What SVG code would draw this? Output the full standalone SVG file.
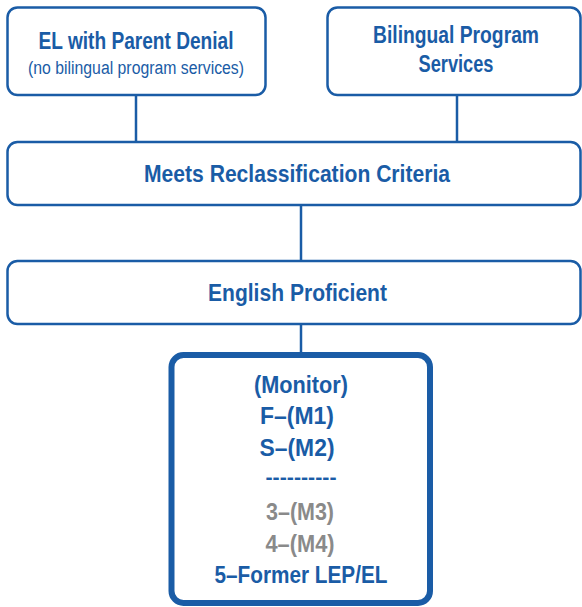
<svg xmlns="http://www.w3.org/2000/svg" width="582" height="607" viewBox="0 0 582 607">
  <style>
    .box { fill: #ffffff; stroke: #1a5ca6; stroke-width: 2.5; }
    .box-thick { fill: #ffffff; stroke: #1a5ca6; stroke-width: 6; }
    .link { stroke: #1a5ca6; stroke-width: 2.5; fill: none; }
    text { font-family: "Liberation Sans", Arial, sans-serif; text-anchor: middle; }
    .title { font-size: 23px; font-weight: bold; fill: #1a5ca6; }
    .sub { font-size: 18px; fill: #1a5ca6; }
    .gray { font-size: 23px; font-weight: bold; fill: #8a8a8a; }
    .dash { font-size: 20px; font-weight: bold; fill: #1a5ca6; }
  </style>

  <!-- connectors -->
  <g id="connectors">
    <line class="link" x1="136" y1="95" x2="136" y2="142"/>
    <line class="link" x1="457" y1="95" x2="457" y2="142"/>
    <line class="link" x1="301" y1="205" x2="301" y2="261"/>
    <line class="link" x1="301" y1="324" x2="301" y2="355"/>
  </g>

  <g id="parent-denial">
    <rect class="box" x="7.5" y="7.5" width="258" height="87.5" rx="10"/>
    <text class="title" x="136" y="48.5" textLength="195" lengthAdjust="spacingAndGlyphs">EL with Parent Denial</text>
    <text class="sub" x="136" y="74" textLength="216" lengthAdjust="spacingAndGlyphs">(no bilingual program services)</text>
  </g>

  <g id="bilingual-services">
    <rect class="box" x="327.5" y="7.5" width="253" height="87.5" rx="10"/>
    <text class="title" x="456" y="43" textLength="166" lengthAdjust="spacingAndGlyphs">Bilingual Program</text>
    <text class="title" x="456" y="71.5" textLength="75" lengthAdjust="spacingAndGlyphs">Services</text>
  </g>

  <g id="reclassification">
    <rect class="box" x="7.5" y="142" width="573" height="63" rx="10"/>
    <text class="title" x="297" y="181.5" textLength="306" lengthAdjust="spacingAndGlyphs">Meets Reclassification Criteria</text>
  </g>

  <g id="english-proficient">
    <rect class="box" x="7.5" y="261" width="573" height="63" rx="10"/>
    <text class="title" x="297.5" y="300.5" textLength="179" lengthAdjust="spacingAndGlyphs">English Proficient</text>
  </g>

  <g id="monitor">
    <rect class="box-thick" x="171.5" y="355" width="258.5" height="248" rx="12"/>
    <text class="title" x="301" y="393" textLength="94" lengthAdjust="spacingAndGlyphs">(Monitor)</text>
    <text class="title" x="297" y="424" textLength="74" lengthAdjust="spacingAndGlyphs">F–(M1)</text>
    <text class="title" x="297" y="456" textLength="75" lengthAdjust="spacingAndGlyphs">S–(M2)</text>
    <text class="dash" x="301" y="484" textLength="71" lengthAdjust="spacingAndGlyphs">----------</text>
    <text class="gray" x="300" y="520" textLength="68" lengthAdjust="spacingAndGlyphs">3–(M3)</text>
    <text class="gray" x="300" y="552" textLength="69" lengthAdjust="spacingAndGlyphs">4–(M4)</text>
    <text class="title" x="301" y="583" textLength="173" lengthAdjust="spacingAndGlyphs">5–Former LEP/EL</text>
  </g>
</svg>
